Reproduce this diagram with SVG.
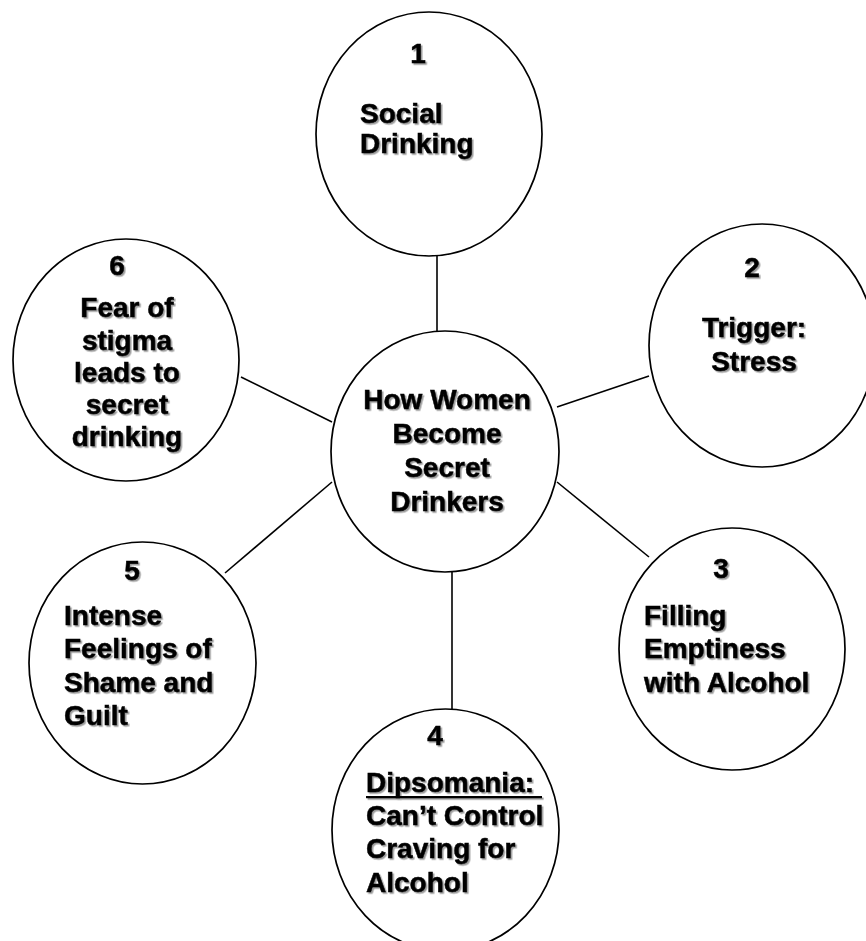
<svg xmlns="http://www.w3.org/2000/svg" width="866" height="941" viewBox="0 0 866 941">
<defs>
<filter id="sh" x="-10%" y="-20%" width="130%" height="150%">
<feDropShadow dx="1.6" dy="1.6" stdDeviation="0.7" flood-color="#000" flood-opacity="0.4"/>
</filter>
<style>
.c{fill:#fff;stroke:#000;stroke-width:1.7}
.e{stroke:#000;stroke-width:1.6;fill:none}
text{font-family:"Liberation Sans",Arial,sans-serif;font-weight:bold;font-size:28px;fill:#000;stroke:#000;stroke-width:0.5}
.t{filter:url(#sh)}
.m{text-anchor:middle}
</style>
</defs>
<rect width="866" height="941" fill="#fff"/>
<g id="connectors">
<line class="e" x1="437" y1="256" x2="437" y2="331"/>
<line class="e" x1="557" y1="407" x2="649" y2="376"/>
<line class="e" x1="557" y1="482" x2="649" y2="557"/>
<line class="e" x1="452" y1="572" x2="452" y2="709"/>
<line class="e" x1="225" y1="573" x2="332" y2="482"/>
<line class="e" x1="241" y1="377" x2="332" y2="422"/>
</g>
<g id="center">
<ellipse class="c" cx="445" cy="451.5" rx="114" ry="120.5"/>
<g class="t m">
<text x="447" y="409">How Women</text>
<text x="447" y="443">Become</text>
<text x="447" y="477">Secret</text>
<text x="447" y="511">Drinkers</text>
</g>
</g>
<g id="node1">
<ellipse class="c" cx="429" cy="134" rx="113" ry="122"/>
<g class="t">
<text class="m" x="418" y="63">1</text>
<text x="360" y="122.5">Social</text>
<text x="360" y="153">Drinking</text>
</g>
</g>
<g id="node2">
<ellipse class="c" cx="762" cy="345.5" rx="113" ry="121.5"/>
<g class="t m">
<text x="752" y="277">2</text>
<text x="754" y="337">Trigger:</text>
<text x="754" y="371">Stress</text>
</g>
</g>
<g id="node3">
<ellipse class="c" cx="732" cy="649" rx="113" ry="121"/>
<g class="t">
<text class="m" x="721" y="578">3</text>
<text x="644" y="625">Filling</text>
<text x="644" y="658">Emptiness</text>
<text x="644" y="692">with Alcohol</text>
</g>
</g>
<g id="node4">
<ellipse class="c" cx="445.5" cy="830" rx="113.5" ry="121"/>
<g class="t">
<text class="m" x="435" y="745">4</text>
<text x="366" y="792">Dipsomania:</text>
<rect x="366" y="796" width="176" height="2.2" fill="#000"/>
<text x="366" y="825">Can’t Control</text>
<text x="366" y="858">Craving for</text>
<text x="366" y="892">Alcohol</text>
</g>
</g>
<g id="node5">
<ellipse class="c" cx="142.5" cy="663" rx="113.5" ry="121"/>
<g class="t">
<text class="m" x="132" y="580">5</text>
<text x="64" y="625">Intense</text>
<text x="64" y="658">Feelings of</text>
<text x="64" y="692">Shame and</text>
<text x="64" y="725">Guilt</text>
</g>
</g>
<g id="node6">
<ellipse class="c" cx="126" cy="360" rx="113" ry="121"/>
<g class="t m">
<text x="117" y="275">6</text>
<text x="127" y="317">Fear of</text>
<text x="127" y="349.5">stigma</text>
<text x="127" y="382">leads to</text>
<text x="127" y="414">secret</text>
<text x="127" y="446">drinking</text>
</g>
</g>
</svg>
